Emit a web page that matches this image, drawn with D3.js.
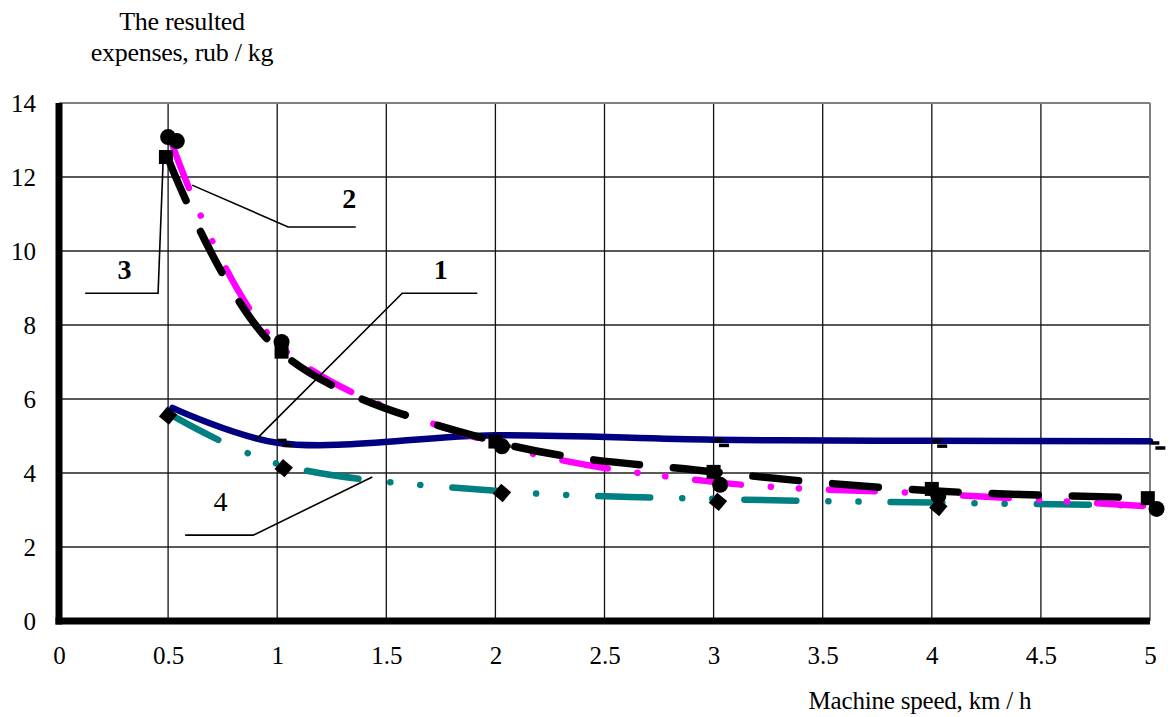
<!DOCTYPE html>
<html>
<head>
<meta charset="utf-8">
<script src="https://cdn.jsdelivr.net/npm/d3@7"></script>
<style>
  html, body { margin: 0; padding: 0; background: #fff; }
  svg { display: block; }
  text { font-family: "Liberation Serif", "Times New Roman", serif; fill: #000; }
</style>
</head>
<body>
<svg id="chart" width="1173" height="717"></svg>
<script>
// ---------- data ----------
const xTicks = [0, 0.5, 1, 1.5, 2, 2.5, 3, 3.5, 4, 4.5, 5];
const yTicks = [0, 2, 4, 6, 8, 10, 12, 14];

// curve 1 (navy, solid)
const s1x = [0.52, 1, 2, 3, 4, 5];
const s1y = [5.76, 4.82, 5.02, 4.9, 4.87, 4.86];
// curve 2 (magenta, dash-dot-dot)
const s2x = [0.52, 1, 2, 3, 4, 5];
const s2y = [12.86, 7.5, 4.8, 3.76, 3.44, 3.1];
// curve 3 (black, long dashes)
const s3x = [0.5, 1, 2, 3, 4, 5];
const s3y = [12.5, 7.35, 4.85, 4.03, 3.52, 3.33];
// curve 4 (teal, dash-dot-dot)
const s4x = [0.52, 1, 2, 3, 4, 5];
const s4y = [5.55, 4.25, 3.52, 3.3, 3.2, 3.12];

// markers
const m1x = [1.02, 2.02, 3.02, 4.02, 5.02];           // dash markers, curve 1
const m1y = [4.82, 4.8, 4.82, 4.8, 4.75];
const m2x = [0.5, 0.54, 1.02, 2.03, 3.03, 4.03, 5.03]; // circles, curve 2
const m2y = [13.08, 12.97, 7.54, 4.72, 3.68, 3.38, 3.03];
const m3x = [0.49, 1.02, 2.0, 3.0, 4.0, 4.99];         // squares, curve 3
const m3y = [12.54, 7.28, 4.85, 4.03, 3.57, 3.32];
const m4x = [0.5, 1.03, 2.03, 3.02, 4.03];             // diamonds, curve 4
const m4y = [5.55, 4.13, 3.46, 3.22, 3.08];

// callouts: label, label position, leader polyline (data units)
const calloutLabels = ["1", "2", "3", "4"];
const calloutLabelX = [1.75, 1.33, 0.30, 0.74];
const calloutLabelY = [9.5, 11.42, 9.5, 3.24];
const calloutLineX = [[0.9, 1.573, 1.917], [0.61, 1.05, 1.36], [0.12, 0.454, 0.477], [0.578, 0.89, 1.436]];
const calloutLineY = [[4.89, 8.86, 8.86], [11.78, 10.65, 10.65], [8.86, 8.86, 12.4], [2.32, 2.32, 3.89]];

const yTitle = ["The resulted", "expenses, rub / kg"];
const xTitle = "Machine speed, km / h";

// ---------- layout ----------
const svg = d3.select("#chart");
const x = d3.scaleLinear().domain([0, 5]).range([59, 1150]);
const y = d3.scaleLinear().domain([0, 14]).range([621, 103]);

// grid
const g = svg.append("g");
g.selectAll(".hg").data(yTicks.filter(v => v > 0 && v < 14)).join("line")
  .attr("x1", x(0)).attr("x2", x(5)).attr("y1", d => y(d)).attr("y2", d => y(d))
  .attr("stroke", "#222").attr("stroke-width", 1.3);
g.selectAll(".vg").data(xTicks.filter(v => v > 0 && v < 5)).join("line")
  .attr("y1", y(0)).attr("y2", y(14)).attr("x1", d => x(d)).attr("x2", d => x(d))
  .attr("stroke", "#111").attr("stroke-width", 1.3);
// top and right border (grey)
g.append("line").attr("x1", x(0)).attr("x2", x(5)).attr("y1", y(14)).attr("y2", y(14))
  .attr("stroke", "#808080").attr("stroke-width", 2);
g.append("line").attr("x1", x(5)).attr("x2", x(5)).attr("y1", y(14)).attr("y2", y(0))
  .attr("stroke", "#808080").attr("stroke-width", 2);

// ticks labels via axes
const yAxis = d3.axisLeft(y).tickValues(yTicks).tickSize(0).tickPadding(0).tickFormat(d3.format("d"));
const ya = svg.append("g").attr("transform", "translate(36,0)").call(yAxis);
ya.select(".domain").remove();
ya.selectAll("text").attr("font-size", 25).attr("font-family", "Liberation Serif").attr("dy", "0.32em");

const xAxis = d3.axisBottom(x).tickValues(xTicks).tickSize(0).tickPadding(0).tickFormat(d => String(d));
const xa = svg.append("g").attr("transform", "translate(0,664)").call(xAxis);
xa.select(".domain").remove();
xa.selectAll("text").attr("font-size", 25).attr("font-family", "Liberation Serif").attr("dy", 0);

// thick axes
svg.append("line").attr("x1", x(0)).attr("x2", x(0)).attr("y1", y(14)).attr("y2", y(0) + 3.5)
  .attr("stroke", "#000").attr("stroke-width", 7);
svg.append("line").attr("x1", x(0) - 3.5).attr("x2", x(5)).attr("y1", y(0)).attr("y2", y(0))
  .attr("stroke", "#000").attr("stroke-width", 7);

// titles
svg.append("text").attr("x", 182).attr("y", 30).attr("text-anchor", "middle")
  .attr("font-size", 26).attr("letter-spacing", -0.3).text(yTitle[0]);
svg.append("text").attr("x", 182).attr("y", 61).attr("text-anchor", "middle")
  .attr("font-size", 26).attr("letter-spacing", -0.3).text(yTitle[1]);
svg.append("text").attr("x", 920).attr("y", 709).attr("text-anchor", "middle")
  .attr("font-size", 25).attr("letter-spacing", -0.2).text(xTitle);

// ---------- lines ----------
const zip = (xs, ys) => xs.map((v, i) => [v, ys[i]]);
const line = d3.line().x(d => x(d[0])).y(d => y(d[1])).curve(d3.curveCatmullRom.alpha(0.5));
const plot = svg.append("g");

plot.append("path").datum(zip(s1x, s1y)).attr("d", line)
  .attr("fill", "none").attr("stroke", "#000080").attr("stroke-width", 6.5).attr("stroke-linecap", "round");
plot.append("path").datum(zip(s4x, s4y)).attr("d", line)
  .attr("fill", "none").attr("stroke", "#008080").attr("stroke-width", 6.5)
  .attr("stroke-linecap", "round").attr("stroke-dasharray", "52,32,0.1,30,0.1,32");
plot.append("path").datum(zip(s2x, s2y)).attr("d", line)
  .attr("fill", "none").attr("stroke", "#FF00FF").attr("stroke-width", 6.5)
  .attr("stroke-linecap", "round").attr("stroke-dasharray", "46,30,0.1,28,0.1,30");
plot.append("path").datum(zip(s3x, s3y)).attr("d", line)
  .attr("fill", "none").attr("stroke", "#000").attr("stroke-width", 7.5)
  .attr("stroke-linecap", "round").attr("stroke-dasharray", "46,34");

// ---------- markers ----------
const mk = svg.append("g");
// dash markers (curve 1)
zip(m1x, m1y).forEach(d => {
  mk.append("rect").attr("x", x(d[0]) - 4).attr("y", y(d[1]) - 4).attr("width", 9).attr("height", 3.5).attr("fill", "#000");
  mk.append("rect").attr("x", x(d[0]) + 1).attr("y", y(d[1]) + 1).attr("width", 10).attr("height", 3.5).attr("fill", "#000");
});
// circles (curve 2)
mk.selectAll(".c").data(zip(m2x, m2y)).join("circle")
  .attr("cx", d => x(d[0])).attr("cy", d => y(d[1])).attr("r", 8).attr("fill", "#000");
// squares (curve 3)
mk.selectAll(".s").data(zip(m3x, m3y)).join("rect")
  .attr("x", d => x(d[0]) - 7).attr("y", d => y(d[1]) - 7).attr("width", 14).attr("height", 14).attr("fill", "#000");
// diamonds (curve 4)
mk.selectAll(".d").data(zip(m4x, m4y)).join("path")
  .attr("d", d3.symbol().type(d3.symbolSquare).size(170))
  .attr("transform", d => `translate(${x(d[0])},${y(d[1])}) rotate(40)`).attr("fill", "#000");

// ---------- callouts ----------
const lp = d3.line().x(d => x(d[0])).y(d => y(d[1]));
calloutLabels.forEach((lab, i) => {
  svg.append("path").datum(zip(calloutLineX[i], calloutLineY[i])).attr("d", lp)
    .attr("fill", "none").attr("stroke", "#000").attr("stroke-width", 1.6);
  svg.append("text").attr("x", x(calloutLabelX[i])).attr("y", y(calloutLabelY[i]))
    .attr("text-anchor", "middle").attr("dy", "0.35em")
    .attr("font-size", 28).attr("font-weight", i === 3 ? "normal" : "bold").text(lab);
});
</script>
</body>
</html>
